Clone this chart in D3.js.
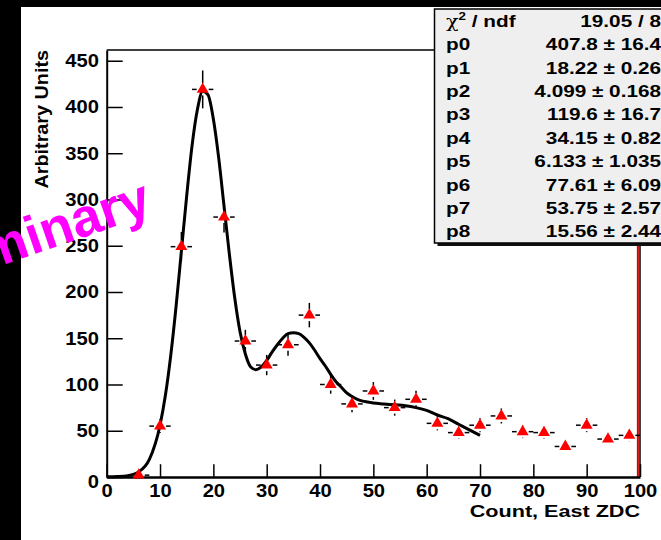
<!DOCTYPE html>
<html>
<head>
<meta charset="utf-8">
<script src="https://cdn.jsdelivr.net/npm/d3@7"></script>
<style>
  body { margin: 0; background: #fff; }
  svg { display: block; font-family: "Liberation Sans", Arial, sans-serif; font-weight: bold; }
</style>
</head>
<body>
<svg id="chart" width="661" height="540"></svg>
<script>
// bin centres (bin width 4) and contents
const binX = [6, 10, 14, 18, 22, 26, 30, 34, 38, 42, 46, 50, 54, 58, 62, 66, 70, 74, 78, 82, 86, 90, 94, 98]
const counts = [2, 55, 249, 419, 281, 147, 121, 143, 175, 100, 79, 93, 75, 84, 58, 48, 56, 66, 49, 48, 33, 56, 41, 45]
const errs = [1.4, 7.4, 15.8, 20.5, 16.8, 12.1, 11, 12, 13.2, 10, 8.9, 9.6, 8.7, 9.2, 7.6, 6.9, 7.5, 8.1, 7, 6.9, 5.7, 7.5, 6.4, 6.7]
const binHalf = 2

// fitted curve as seen on the picture
const fitX = [0, 2, 4, 6, 8, 10, 11, 12, 13, 14, 15, 16, 17, 18, 19, 20, 21, 22, 23, 24, 25, 26, 27, 28, 29, 30,
  31, 32, 33, 34, 35, 36, 37, 38, 39, 40, 41, 42, 43, 44, 45, 46, 47, 48, 49, 50, 52, 54, 56, 58, 60, 62, 64, 66, 68, 70]
const fitY = [0.2, 0.5, 1.5, 5.5, 19, 56, 88, 131, 184, 244, 304, 358, 397, 417, 413, 387, 345, 293, 241, 194, 157, 133, 119, 116, 119, 126,
  135, 143, 150, 155, 156, 155, 151, 145, 137, 128, 120, 111, 103, 97, 91, 87, 84, 82, 81, 80, 79, 78, 77, 75, 72, 67, 63, 57, 51, 45]

// stats box
const statNames = ['p0', 'p1', 'p2', 'p3', 'p4', 'p5', 'p6', 'p7', 'p8']
const statVals = ['407.8', '18.22', '4.099', '119.6', '34.15', '6.133', '77.61', '53.75', '15.56']
const statErrs = ['16.4', '0.26', '0.168', '16.7', '0.82', '1.035', '6.09', '2.57', '2.44']
const chi2 = '19.05 / 8'

const xTicks = [0, 10, 20, 30, 40, 50, 60, 70, 80, 90, 100]
const yTicks = [0, 50, 100, 150, 200, 250, 300, 350, 400, 450]
const xMax = 100, yMax = 461.6

const svg = d3.select('#chart')

const x = d3.scaleLinear().domain([0, xMax]).range([106.7, 640])
const y = d3.scaleLinear().domain([0, yMax]).range([477, 50])

// places a text at (px,py) with a bit of horizontal stretch, like the wide ROOT font
function stretched(g, px, py, sx, rot){
    return g.append('text')
        .attr('transform', 'translate(' + px + ',' + py + ')' + (rot ? ' rotate(' + rot + ')' : '') + ' scale(' + sx + ',1)')
}

// red line at the last bin edge
svg.append('line')
    .attr('x1', x(99.6)).attr('x2', x(99.6))
    .attr('y1', y(yMax)).attr('y2', y(0))
    .attr('stroke', '#d40000')
    .attr('stroke-width', 2)

// frame top + right
svg.append('path')
    .attr('d', 'M ' + x(0) + ' ' + y(yMax) + ' L ' + x(xMax) + ' ' + y(yMax) + ' L ' + x(xMax) + ' ' + y(0))
    .attr('fill', 'none')
    .attr('stroke', '#000')
    .attr('stroke-width', 1.5)

// x axis
let gx = svg.append('g').attr('transform', 'translate(0,' + y(0) + ')')
gx.call(d3.axisBottom(x).tickValues(d3.range(0, 101, 2)).tickSize(-6.4).tickSizeOuter(0).tickFormat(''))
gx.call(d3.axisBottom(x).tickValues(xTicks).tickSize(-12.8).tickSizeOuter(0).tickPadding(7).tickFormat(d3.format('d')))
gx.selectAll('.tick line').attr('stroke-width', 1.5)
gx.selectAll('.domain').attr('stroke-width', 2.5)
gx.selectAll('text')
    .attr('font-size', 18)
    .attr('font-family', '"Liberation Sans", Arial, sans-serif')
    .attr('font-weight', 'bold')
    .attr('transform', 'scale(1.12,1)')

// y axis
let gy = svg.append('g').attr('transform', 'translate(' + x(0) + ',0)')
gy.call(d3.axisLeft(y).tickValues(d3.range(0, 451, 10)).tickSize(-8).tickSizeOuter(0).tickFormat(''))
gy.call(d3.axisLeft(y).tickValues(yTicks).tickSize(-16).tickSizeOuter(0).tickPadding(7).tickFormat(d3.format('d')))
gy.selectAll('.tick line').attr('stroke-width', 1.5)
gy.selectAll('.domain').attr('stroke-width', 2)
gy.selectAll('text')
    .attr('font-size', 18)
    .attr('font-family', '"Liberation Sans", Arial, sans-serif')
    .attr('font-weight', 'bold')
    .attr('transform', 'scale(1.12,1)')
gy.selectAll('.tick').filter(d => d === 0).select('text').attr('dy', '0.6em')

// axis titles
stretched(svg, 640, 517, 1.27, 0)
    .attr('text-anchor', 'end')
    .attr('font-size', 17)
    .text('Count, East ZDC')

stretched(svg, 48, 50, 1.1, -90)
    .attr('text-anchor', 'end')
    .attr('font-size', 18)
    .text('Arbitrary Units')

// fit curve
const line = d3.line()
    .x(d => x(d[0]))
    .y(d => y(d[1]))
    .curve(d3.curveMonotoneX)

svg.append('path')
    .attr('d', line(fitX.map((v, i) => [v, fitY[i]])))
    .attr('fill', 'none')
    .attr('stroke', '#000')
    .attr('stroke-width', 3)

// error bars, with a gap round the marker
const gap = 6
let bars = svg.append('g').attr('stroke', '#000').attr('stroke-width', 1.5)
binX.forEach((b, i) => {
    let cx = x(b), cy = y(counts[i])
    let top = y(counts[i] + errs[i]), bot = y(Math.max(0, counts[i] - errs[i]))
    if (cy - top > gap) bars.append('line').attr('x1', cx).attr('x2', cx).attr('y1', top).attr('y2', cy - gap)
    if (bot - cy > gap) bars.append('line').attr('x1', cx).attr('x2', cx).attr('y1', cy + gap).attr('y2', bot)
    bars.append('line').attr('x1', x(b - binHalf)).attr('x2', cx - gap).attr('y1', cy).attr('y2', cy)
    bars.append('line').attr('x1', cx + gap).attr('x2', x(b + binHalf)).attr('y1', cy).attr('y2', cy)
})

// markers
svg.append('g').selectAll('path')
    .data(binX)
    .join('path')
    .attr('transform', (d, i) => 'translate(' + x(d) + ',' + y(counts[i]) + ')')
    .attr('d', d3.symbol(d3.symbolTriangle, 62))
    .attr('fill', '#ff0000')

// stats box
const bx = 434.5, by = 9, bw = 240, bh = 234
svg.append('rect').attr('x', bx + 3).attr('y', by + 3).attr('width', bw).attr('height', bh).attr('fill', '#111')
svg.append('rect').attr('x', bx).attr('y', by).attr('width', bw).attr('height', bh)
    .attr('fill', '#efefef').attr('stroke', '#000').attr('stroke-width', 1.5)

const rowH = bh / 10
const sStretch = 1.22
let chiRow = stretched(svg, 446, by + rowH * 0.5 + 6, sStretch, 0).attr('font-size', 17)
chiRow.append('tspan').attr('font-weight', 'normal').attr('font-family', '"DejaVu Serif", serif').text('\u03c7')
chiRow.append('tspan').attr('font-size', 11).attr('dy', -7).text('2')
chiRow.append('tspan').attr('dy', 7).text(' / ndf')
stretched(svg, 661, by + rowH * 0.5 + 6, sStretch, 0)
    .attr('text-anchor', 'end').attr('font-size', 17).text(chi2)

statNames.forEach((n, i) => {
    let ty = by + rowH * (i + 1.5) + 6
    stretched(svg, 446, ty, sStretch, 0).attr('font-size', 17).text(n)
    stretched(svg, 661, ty, sStretch, 0)
        .attr('text-anchor', 'end').attr('font-size', 17)
        .text(statVals[i] + ' \u00b1 ' + statErrs[i])
})

// black borders of the screenshot
svg.append('rect').attr('x', 0).attr('y', 0).attr('width', 21).attr('height', 540).attr('fill', '#000')
svg.append('rect').attr('x', 0).attr('y', 0).attr('width', 661).attr('height', 7).attr('fill', '#000')

// Preliminary stamp
stretched(svg, 154, 213, 1, -19)
    .attr('text-anchor', 'end')
    .attr('font-size', 54)
    .attr('fill', '#ff00ff')
    .text('Preliminary')
</script>
</body>
</html>
